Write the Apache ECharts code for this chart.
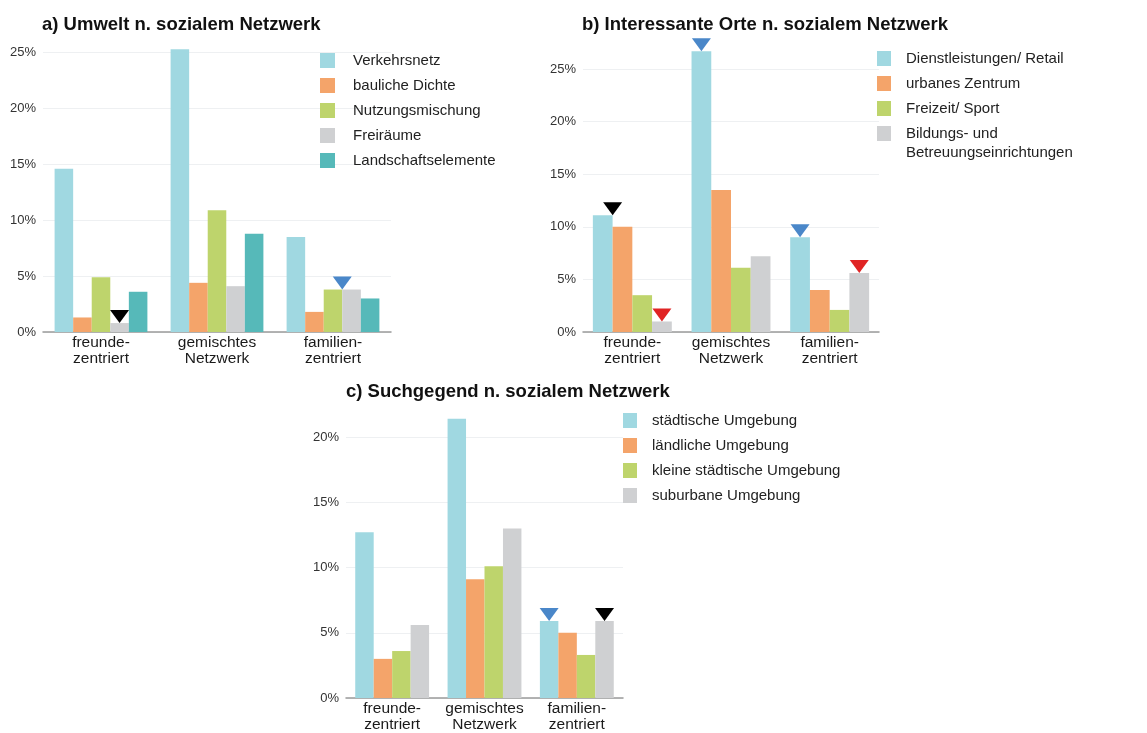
<!DOCTYPE html>
<html lang="de">
<head>
<meta charset="utf-8">
<title>Soziales Netzwerk – Umwelt, Orte, Suchgegend</title>
<script src="https://cdn.jsdelivr.net/npm/echarts@6/dist/echarts.min.js"></script>
<style>
  html, body { margin: 0; padding: 0; background: #fff; }
  #chart { width: 1147px; height: 733px; }
</style>
</head>
<body>
<div id="chart"></div>
<script>
// Categories shared by all three panels
const categories = ['freunde-\nzentriert', 'gemischtes\nNetzwerk', 'familien-\nzentriert'];

// a) Umwelt n. sozialem Netzwerk (percent)
const umweltNames = ['Verkehrsnetz', 'bauliche Dichte', 'Nutzungsmischung', 'Freiräume', 'Landschaftselemente'];
const verkehrsnetz = [14.6, 25.3, 8.5];
const baulicheDichte = [1.3, 4.4, 1.8];
const nutzungsmischung = [4.9, 10.9, 3.8];
const freiraeume = [0.8, 4.1, 3.8];
const landschaftselemente = [3.6, 8.8, 3.0];

// b) Interessante Orte n. sozialem Netzwerk (percent)
const orteNames = ['Dienstleistungen/ Retail', 'urbanes Zentrum', 'Freizeit/ Sport', 'Bildungs- und Betreuungseinrichtungen'];
const dienstleistungen = [11.1, 26.7, 9.0];
const urbanesZentrum = [10.0, 13.5, 4.0];
const freizeitSport = [3.5, 6.1, 2.1];
const bildung = [1.0, 7.2, 5.6];

// c) Suchgegend n. sozialem Netzwerk (percent)
const gegendNames = ['städtische Umgebung', 'ländliche Umgebung', 'kleine städtische Umgebung', 'suburbane Umgebung'];
const staedtisch = [12.7, 21.4, 5.9];
const laendlich = [3.0, 9.1, 5.0];
const kleinStaedtisch = [3.6, 10.1, 3.3];
const suburban = [5.6, 13.0, 5.9];

// Y-axis tick labels
const yTicksA = [0, 5, 10, 15, 20, 25];
const yTicksB = [0, 5, 10, 15, 20, 25];
const yTicksC = [0, 5, 10, 15, 20];

// Triangle highlights: series index, category index, colour, horizontal shift in bar widths
const highlightsA = [
  { s: 3, cat: 0, color: '#000000', shift: 0 },
  { s: 3, cat: 2, color: '#4a87c9', shift: -0.5 }
];
const highlightsB = [
  { s: 0, cat: 0, color: '#000000', shift: 0.5 },
  { s: 0, cat: 1, color: '#4a87c9', shift: 0 },
  { s: 0, cat: 2, color: '#4a87c9', shift: 0 },
  { s: 3, cat: 0, color: '#e02424', shift: 0 },
  { s: 3, cat: 2, color: '#e02424', shift: 0 }
];
const highlightsC = [
  { s: 0, cat: 2, color: '#4a87c9', shift: 0 },
  { s: 3, cat: 2, color: '#000000', shift: 0 }
];

// Long legend entry of panel b is shown on two lines: first line in the legend, second line below it
const LONG_NAME = 'Bildungs- und Betreuungseinrichtungen';
const LONG_FIRST = 'Bildungs- und';
const LONG_SECOND = 'Betreuungseinrichtungen';

const COLORS5 = ['#a0d8e1', '#f4a46a', '#bed46c', '#cfd0d2', '#56b9b9'];
const COLORS4 = ['#a0d8e1', '#f4a46a', '#bed46c', '#cfd0d2'];
const FONT = '"Liberation Sans", Arial, Helvetica, sans-serif';

const panels = [
  { names: umweltNames, values: [verkehrsnetz, baulicheDichte, nutzungsmischung, freiraeume, landschaftselemente],
    colors: COLORS5, ticks: yTicksA, max: 25.5, highlights: highlightsA, barW: 18.6,
    grid: { left: 43, top: 47, width: 348, height: 285 },
    title: { text: 'a) Umwelt n. sozialem Netzwerk', left: 42, top: 15 },
    legend: { left: 320, top: 53, itemWidth: 15, textPad: 13 } },
  { names: orteNames, values: [dienstleistungen, urbanesZentrum, freizeitSport, bildung],
    colors: COLORS4, ticks: yTicksB, max: 27, highlights: highlightsB, barW: 19.8,
    grid: { left: 583, top: 48, width: 296, height: 284 },
    title: { text: 'b) Interessante Orte n. sozialem Netzwerk', left: 582, top: 15 },
    legend: { left: 877, top: 51, itemWidth: 14, textPad: 10 } },
  { names: gegendNames, values: [staedtisch, laendlich, kleinStaedtisch, suburban],
    colors: COLORS4, ticks: yTicksC, max: 22, highlights: highlightsC, barW: 18.5,
    grid: { left: 346, top: 411, width: 277, height: 287 },
    title: { text: 'c) Suchgegend n. sozialem Netzwerk', left: 346, top: 382 },
    legend: { left: 623, top: 413, itemWidth: 14, textPad: 10 } }
];

const option = {
  animation: false,
  backgroundColor: '#ffffff',
  textStyle: { fontFamily: FONT },
  title: [], legend: [], grid: [], xAxis: [], yAxis: [], series: [],
  graphic: [{
    type: 'text', left: 906, top: 145, silent: true,
    style: { text: LONG_SECOND, font: '15px ' + FONT, fill: '#222222' }
  }]
};

panels.forEach(function (p, pi) {
  option.title.push({
    text: p.title.text, left: p.title.left, top: p.title.top, padding: 0,
    textStyle: { fontFamily: FONT, fontSize: 18.5, fontWeight: 'bold', color: '#111111' }
  });

  option.legend.push({
    orient: 'vertical', left: p.legend.left, top: p.legend.top, padding: 0,
    itemWidth: p.legend.itemWidth, itemHeight: 15, itemGap: 10, icon: 'rect',
    selectedMode: false,
    data: p.names.slice(),
    formatter: function (name) { return name === LONG_NAME ? LONG_FIRST : name; },
    textStyle: { fontFamily: FONT, fontSize: 15, color: '#222222', lineHeight: 15,
      padding: [0, 0, 0, p.legend.textPad] }
  });

  option.grid.push(Object.assign({ containLabel: false }, p.grid));

  option.xAxis.push({
    type: 'category', gridIndex: pi, data: categories,
    axisLine: { show: true, lineStyle: { color: '#9a9a9a', width: 1.5 } },
    axisTick: { show: false },
    axisLabel: { fontFamily: FONT, fontSize: 15.5, lineHeight: 16, color: '#1a1a1a', margin: 3, interval: 0 }
  });

  option.yAxis.push({
    type: 'value', gridIndex: pi, min: 0, max: p.max, interval: 5,
    axisLine: { show: false }, axisTick: { show: false },
    axisLabel: {
      fontFamily: FONT, fontSize: 13, color: '#333333', margin: 7,
      showMaxLabel: false,
      formatter: function (v) { return p.ticks.indexOf(v) >= 0 ? v + '%' : ''; }
    },
    splitLine: { show: true, showMaxLine: false, lineStyle: { color: '#eef0f2', width: 1 } }
  });

  p.names.forEach(function (name, si) {
    const marks = p.highlights.filter(function (h) { return h.s === si; });
    const s = {
      name: name, type: 'bar', xAxisIndex: pi, yAxisIndex: pi,
      data: p.values[si], barGap: '0%', barCategoryGap: '20%',
      itemStyle: { color: p.colors[si] },
      silent: true
    };
    if (marks.length) {
      s.markPoint = {
        silent: true,
        symbol: 'triangle', symbolSize: [19, 13], symbolRotate: 180,
        label: { show: false },
        data: marks.map(function (h) {
          return {
            coord: [h.cat, p.values[si][h.cat]],
            symbolOffset: [h.shift * p.barW, -6.5],
            itemStyle: { color: h.color }
          };
        })
      };
    }
    option.series.push(s);
  });
});

const chart = echarts.init(document.getElementById('chart'), null, { renderer: 'canvas' });
chart.setOption(option);
</script>
</body>
</html>
